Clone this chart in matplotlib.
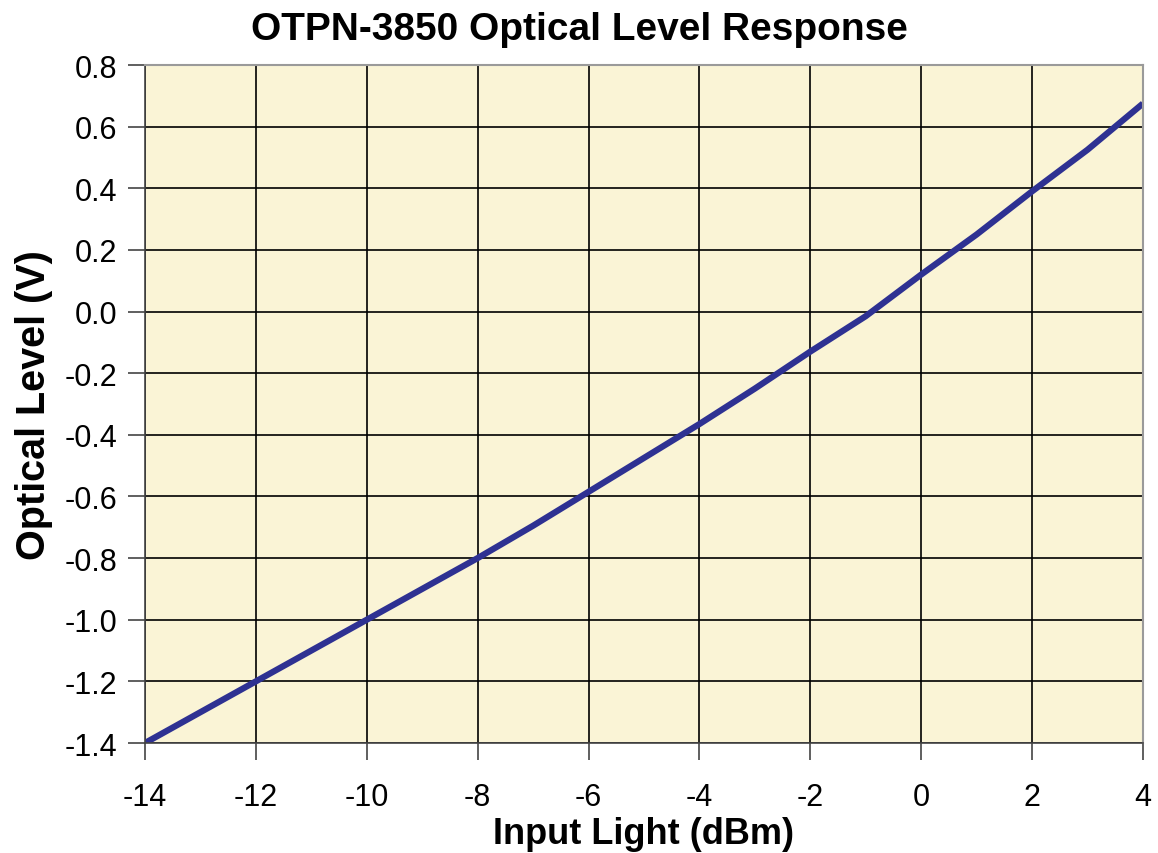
import matplotlib
matplotlib.use('Agg')
import matplotlib.pyplot as plt

# Datos
input_dbm = [-14, -13, -12, -11, -10, -9, -8, -7, -6, -5, -4, -3, -2, -1, 0, 1, 2, 3, 4]
optical_v = [-1.40, -1.30, -1.20, -1.10, -1.00, -0.90, -0.80, -0.695, -0.585, -0.475,
             -0.365, -0.25, -0.13, -0.015, 0.12, 0.25, 0.39, 0.525, 0.675]

x_ticks = [-14, -12, -10, -8, -6, -4, -2, 0, 2, 4]
y_ticks = [-1.4, -1.2, -1.0, -0.8, -0.6, -0.4, -0.2, 0.0, 0.2, 0.4, 0.6, 0.8]

plt.rcParams['font.family'] = ['Liberation Sans', 'DejaVu Sans']
plt.rcParams['axes.unicode_minus'] = False

fig = plt.figure(figsize=(11.58, 8.54), dpi=100)
ax = fig.add_axes([0.1252, 0.1288, 0.8618, 0.7939])

ax.set_facecolor('#FAF4D6')
ax.plot(input_dbm, optical_v, color='#2E3192', linewidth=4.5, solid_capstyle='butt')

ax.set_xlim(-14, 4)
ax.set_ylim(-1.4, 0.8)
ax.set_xticks(x_ticks)
ax.set_xticklabels([str(v) for v in x_ticks])
ax.set_yticks(y_ticks)
ax.set_yticklabels([f'{v:.1f}' for v in y_ticks])
ax.grid(True, color='black', linewidth=1.2)
ax.set_axisbelow(True)

ax.tick_params(axis='both', labelsize=22, length=12, width=1.2, color='#444444')
ax.tick_params(axis='y', pad=8)
ax.tick_params(axis='x', pad=16)
for side in ['top', 'right']:
    ax.spines[side].set_color('#9A9A9A')
    ax.spines[side].set_linewidth(1.5)
for side in ['left', 'bottom']:
    ax.spines[side].set_color('#444444')
    ax.spines[side].set_linewidth(1.2)

# Título centrado en la figura
fig.text(0.5, 0.965, 'OTPN-3850 Optical Level Response', fontsize=28,
         fontweight='bold', ha='center', va='center')
ax.set_xlabel('Input Light (dBm)', fontsize=26, fontweight='bold', labelpad=3)
ax.set_ylabel('Optical Level (V)', fontsize=28.5, fontweight='bold', labelpad=8)

fig.savefig('out.png', dpi=100)
